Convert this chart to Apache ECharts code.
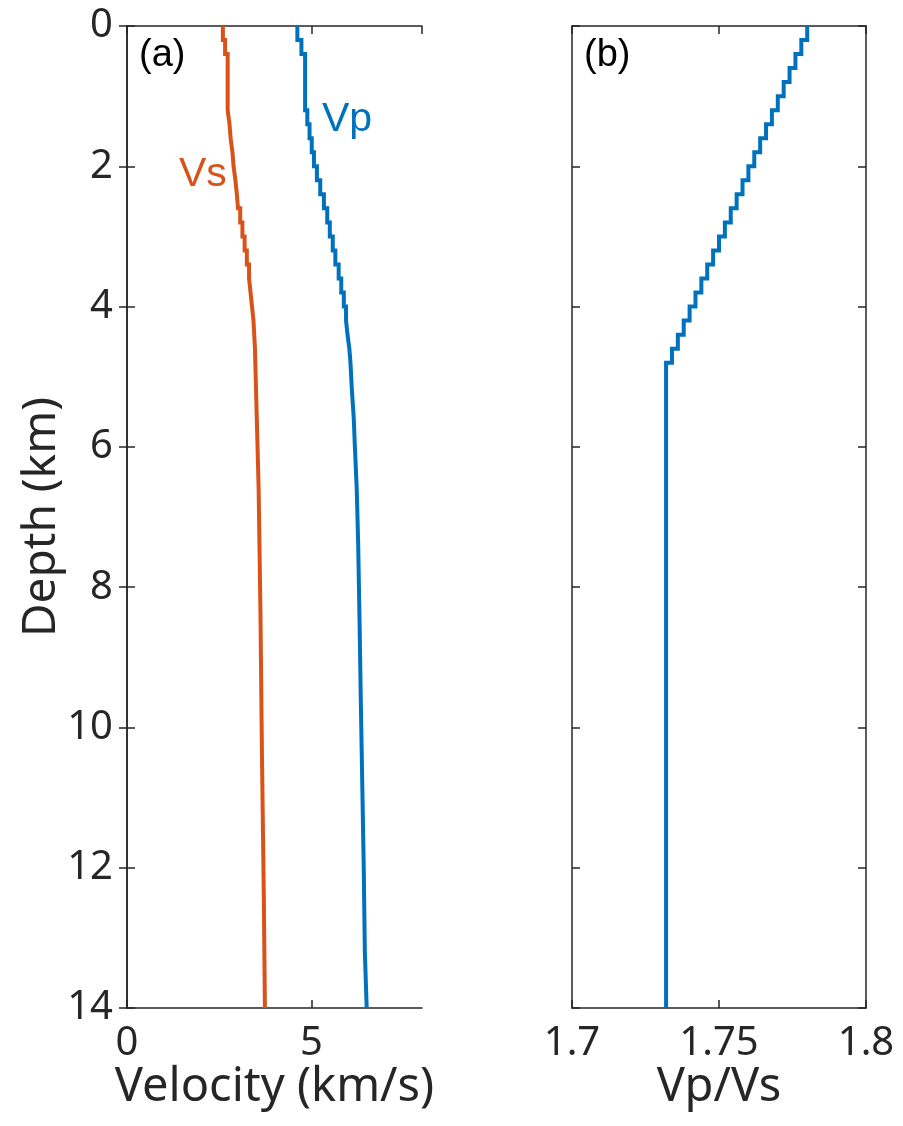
<!DOCTYPE html>
<html>
<head>
<meta charset="utf-8">
<script src="https://cdn.jsdelivr.net/npm/echarts@6/dist/echarts.min.js"></script>
<style>
html,body{margin:0;padding:0;background:#fff;}
#chart{width:903px;height:1126px;}
</style>
</head>
<body>
<div id="chart"></div>
<script>
// Depth (km) of the top of each layer, and the layer values
const vpTops = [0, 0.2, 0.4, 1.2, 1.4, 1.6, 1.8, 2.0, 2.2, 2.4, 2.6, 2.8, 3.0, 3.2, 3.4, 3.6, 3.8, 4.0, 4.2, 4.4, 4.6, 4.8, 5.2, 5.6, 6.0, 6.6, 7.4, 8.6, 9.6, 10.8, 12.0, 13.2];
const vpValues = [4.62, 4.73, 4.83, 4.89, 4.95, 5.01, 5.07, 5.15, 5.24, 5.34, 5.43, 5.50, 5.58, 5.65, 5.74, 5.81, 5.88, 5.94, 5.98, 6.03, 6.06, 6.10, 6.15, 6.18, 6.23, 6.27, 6.31, 6.34, 6.38, 6.42, 6.45, 6.50];
const vsTops = [0, 0.2, 0.4, 1.2, 1.4, 1.6, 1.8, 2.0, 2.2, 2.4, 2.6, 2.8, 3.0, 3.2, 3.4, 3.6, 3.8, 4.0, 4.2, 4.4, 4.6, 5.0, 5.8, 6.6, 8.4, 10.4, 12.4];
const vsValues = [2.60, 2.66, 2.73, 2.78, 2.81, 2.86, 2.89, 2.94, 2.98, 3.01, 3.07, 3.13, 3.19, 3.25, 3.31, 3.35, 3.39, 3.43, 3.45, 3.47, 3.49, 3.53, 3.57, 3.62, 3.66, 3.71, 3.74];
const ratioTops = [0, 0.2, 0.4, 0.6, 0.8, 1.0, 1.2, 1.4, 1.6, 1.8, 2.0, 2.2, 2.4, 2.6, 2.8, 3.0, 3.2, 3.4, 3.6, 3.8, 4.0, 4.2, 4.4, 4.6, 4.8];
const ratioValues = [1.780, 1.778, 1.776, 1.774, 1.772, 1.770, 1.768, 1.766, 1.764, 1.762, 1.760, 1.758, 1.756, 1.754, 1.752, 1.750, 1.748, 1.746, 1.744, 1.742, 1.740, 1.738, 1.736, 1.734, 1.732];
const maxDepth = 14;
const depthTicks = [0, 2, 4, 6, 8, 10, 12, 14];
const velocityTicks = [0, 5];
const ratioTicks = [1.7, 1.75, 1.8];

function stepPoints(tops, vals, bottom) {
  const pts = [];
  for (let i = 0; i < tops.length; i++) {
    const b = i + 1 < tops.length ? tops[i + 1] : bottom;
    pts.push([vals[i], tops[i]]);
    pts.push([vals[i], b]);
  }
  return pts;
}

const AX = '#262626';
const TICKFONT = 'Noto Sans';
const chart = echarts.init(document.getElementById('chart'), null, {renderer: 'canvas'});

function yAx(gridIndex, showLabels, name, pos) {
  return {
    type: 'value', gridIndex: gridIndex, inverse: true, min: 0, max: maxDepth, interval: 2,
    position: pos,
    name: name, nameLocation: 'middle', nameGap: 62, nameMoveOverlap: false,
    nameTextStyle: {fontFamily: TICKFONT, fontSize: 46, color: AX},
    axisLine: {show: true, lineStyle: {color: AX, width: 1.5}},
    axisTick: {show: true, inside: true, length: 8, lineStyle: {color: AX, width: 1.5}},
    axisLabel: {show: showLabels, fontFamily: TICKFONT, fontSize: 40, color: AX, margin: 14},
    splitLine: {show: false}
  };
}
function xAx(gridIndex, min, max, interval, showLabels, name, pos, fmt) {
  return {
    type: 'value', gridIndex: gridIndex, min: min, max: max, interval: interval,
    position: pos,
    name: name, nameLocation: 'middle', nameGap: 56, nameMoveOverlap: false,
    nameTextStyle: {fontFamily: TICKFONT, fontSize: 47, color: AX, verticalAlign: 'top'},
    axisLine: {show: true, onZero: false, lineStyle: {color: AX, width: 1.5}},
    axisTick: {show: true, inside: true, length: 8, lineStyle: {color: AX, width: 1.5}},
    axisLabel: {show: showLabels, fontFamily: TICKFONT, fontSize: 40, color: AX, margin: 16,
      formatter: fmt, showMaxLabel: max === 1.8, showMinLabel: true},
    splitLine: {show: false}
  };
}

const option = {
  backgroundColor: '#fff',
  animation: false,
  grid: [
    {left: 127, top: 26, width: 295, height: 982},
    {left: 572, top: 26, width: 294, height: 982}
  ],
  xAxis: [
    xAx(0, 0, 8, 5, true, 'Velocity (km/s)', 'bottom', v => String(v)),
    xAx(0, 0, 8, 5, false, '', 'top'),
    xAx(1, 1.7, 1.8, 0.05, true, 'Vp/Vs', 'bottom', v => String(+v.toFixed(2))),
    xAx(1, 1.7, 1.8, 0.05, false, '', 'top')
  ],
  yAxis: [
    yAx(0, true, 'Depth (km)', 'left'),
    yAx(0, false, '', 'right'),
    yAx(1, false, '', 'left'),
    yAx(1, false, '', 'right')
  ],
  series: [
    {name: 'Vs', type: 'line', xAxisIndex: 0, yAxisIndex: 0, data: stepPoints(vsTops, vsValues, maxDepth),
      showSymbol: false, lineStyle: {color: '#D95319', width: 4, join: 'miter'}, silent: true},
    {name: 'Vp', type: 'line', xAxisIndex: 0, yAxisIndex: 0, data: stepPoints(vpTops, vpValues, maxDepth),
      showSymbol: false, lineStyle: {color: '#0072BD', width: 4, join: 'miter'}, silent: true},
    {name: 'Vp/Vs', type: 'line', xAxisIndex: 2, yAxisIndex: 2, data: stepPoints(ratioTops, ratioValues, maxDepth),
      showSymbol: false, lineStyle: {color: '#0072BD', width: 4, join: 'miter'}, silent: true}
  ],
  graphic: [
    {type: 'text', left: 139, top: 37, style: {text: '(a)', fontFamily: 'Liberation Sans', fontSize: 38, fill: '#000'}},
    {type: 'text', left: 584, top: 37, style: {text: '(b)', fontFamily: 'Liberation Sans', fontSize: 38, fill: '#000'}},
    {type: 'text', left: 322, top: 99, style: {text: 'Vp', fontFamily: 'Liberation Sans', fontSize: 41, fill: '#0072BD'}},
    {type: 'text', left: 179, top: 154, style: {text: 'Vs', fontFamily: 'Liberation Sans', fontSize: 41, fill: '#D95319'}}
  ]
};
chart.setOption(option);
</script>
</body>
</html>
